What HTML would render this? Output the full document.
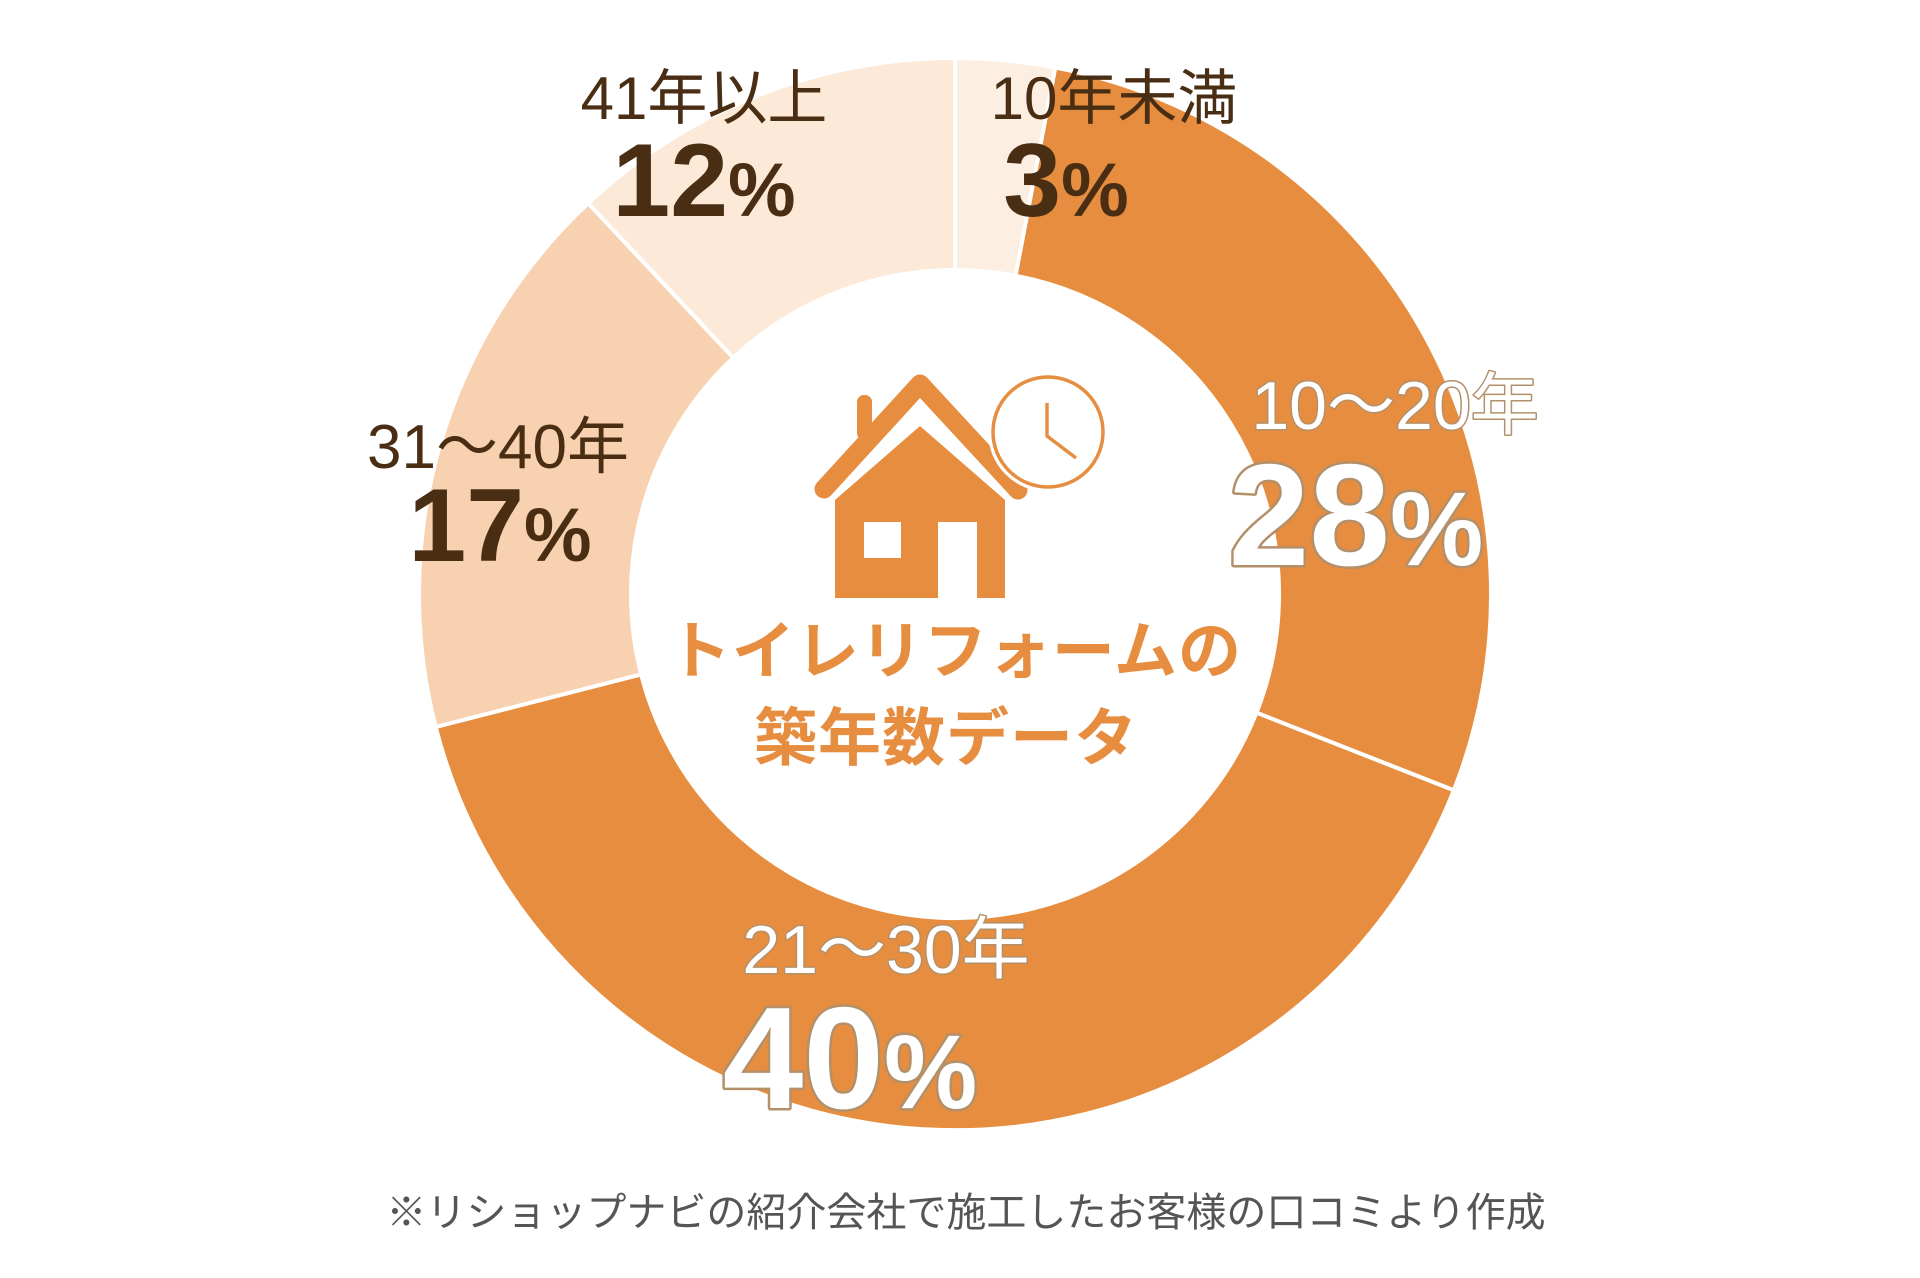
<!DOCTYPE html>
<html><head><meta charset="utf-8"><style>
html,body{margin:0;padding:0;background:#fff;}
svg{display:block;}
text{font-family:"Liberation Sans","Noto Sans CJK JP",sans-serif;}
</style></head><body>
<svg width="1920" height="1278" viewBox="0 0 1920 1278" xmlns="http://www.w3.org/2000/svg">
<g transform="translate(955,594)" stroke="#fff" stroke-width="4">
<path d="M0,-536 A536,536 0 0 1 100.3,-526.5 L60.6,-318.3 A324,324 0 0 0 0,-324 Z" fill="#fdeee2"/>
<path d="M100.3,-526.5 A536,536 0 0 1 498.8,196.3 L301.5,118.7 A324,324 0 0 0 60.6,-318.3 Z" fill="#e68d3f"/>
<path d="M498.8,196.3 A536,536 0 0 1 -519.3,133.0 L-313.9,80.4 A324,324 0 0 0 301.5,118.7 Z" fill="#e68d3f"/>
<path d="M-519.3,133.0 A536,536 0 0 1 -366.8,-390.8 L-221.7,-236.2 A324,324 0 0 0 -313.9,80.4 Z" fill="#f8d2b0"/>
<path d="M-366.8,-390.8 A536,536 0 0 1 0,-536 L0,-324 A324,324 0 0 0 -221.7,-236.2 Z" fill="#fde9d8"/>
</g>
<circle cx="955" cy="594" r="322" fill="#fff"/>
<!-- house icon -->
<g fill="#e68d3f">
<rect x="857" y="395" width="15" height="45" rx="7"/>
<polyline points="824,489 920,384 1018,490" fill="none" stroke="#e68d3f" stroke-width="19" stroke-linecap="round" stroke-linejoin="round"/>
<path d="M835,500 L920,426 L1005,500 L1005,598 L977,598 L977,522 L938,522 L938,598 L835,598 Z"/>
<rect x="864" y="522" width="37" height="36" fill="#fff"/>
<circle cx="1048" cy="432" r="60" fill="#fff"/>
<circle cx="1048" cy="432" r="55" fill="#fff" stroke="#e68d3f" stroke-width="3.5"/>
<polyline points="1047,403 1047,436 1076,458" fill="none" stroke="#e68d3f" stroke-width="3.5"/>
</g>
<text x="955" y="673" text-anchor="middle" font-size="63" font-weight="bold" fill="#e68d3f" letter-spacing="1">トイレリフォームの</text>
<text x="946" y="760" text-anchor="middle" font-size="63" font-weight="bold" fill="#e68d3f" letter-spacing="1">築年数データ</text>
<g fill="#4a2e14">
<text x="704" y="119" text-anchor="middle" font-size="60">41年以上</text>
<text x="704" y="216" text-anchor="middle" font-size="104" font-weight="bold">12<tspan font-size="76">%</tspan></text>
<text x="1114" y="119" text-anchor="middle" font-size="60">10年未満</text>
<text x="1066" y="216" text-anchor="middle" font-size="104" font-weight="bold">3<tspan font-size="76">%</tspan></text>
<text x="498" y="468" text-anchor="middle" font-size="62">31〜40年</text>
<text x="500" y="561" text-anchor="middle" font-size="104" font-weight="bold">17<tspan font-size="76">%</tspan></text>
</g>
<g fill="#fff" stroke="#b3906a" stroke-width="5" paint-order="stroke" stroke-linejoin="round">
<text x="1395" y="429" text-anchor="middle" font-size="68" stroke-width="3">10〜20年</text>
<text x="1356" y="565" text-anchor="middle" font-size="145" font-weight="bold">28<tspan font-size="105">%</tspan></text>
<text x="886" y="973" text-anchor="middle" font-size="68" stroke-width="3">21〜30年</text>
<text x="850" y="1108" text-anchor="middle" font-size="145" font-weight="bold">40<tspan font-size="105">%</tspan></text>
</g>
<text x="966" y="1226" text-anchor="middle" font-size="40" fill="#555">※リショップナビの紹介会社で施工したお客様の口コミより作成</text>
</svg>
</body></html>
